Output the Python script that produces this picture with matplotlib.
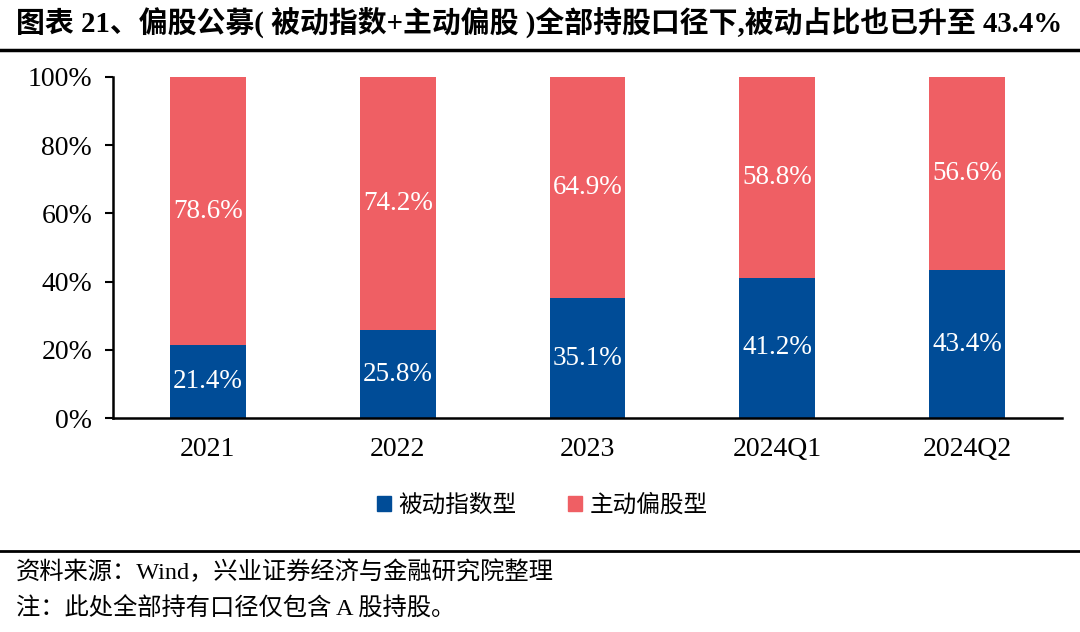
import matplotlib
matplotlib.use("Agg")
import matplotlib.pyplot as plt
from matplotlib.patches import Patch

categories = ["2021", "2022", "2023", "2024Q1", "2024Q2"]
passive = [21.4, 25.8, 35.1, 41.2, 43.4]
active = [78.6, 74.2, 64.9, 58.8, 56.6]
series_names = ["被动指数型", "主动偏股型"]
yticks = [0, 20, 40, 60, 80, 100]

BLUE = "#004C97"
RED = "#EF5F64"
FAM = ["Liberation Serif", "Noto Sans CJK SC"]

plt.rcParams["font.family"] = FAM

fig = plt.figure(figsize=(10.8, 6.32), dpi=100)
W, H = 1080, 632

ax = fig.add_axes([113 / W, 1 - 418 / H, (1062 - 113) / W, (418 - 77) / H])
x = list(range(len(categories)))
bw = 0.40
ax.bar(x, passive, width=bw, color=BLUE)
ax.bar(x, active, width=bw, bottom=passive, color=RED)

for i in x:
    ax.text(i, passive[i] / 2, f"{passive[i]:.1f}%", ha="center", va="center",
            color="white", fontsize=19.5, family=FAM)
    ax.text(i, passive[i] + active[i] / 2, f"{active[i]:.1f}%", ha="center", va="center",
            color="white", fontsize=19.5, family=FAM)

ax.set_xlim(-0.5, 4.5)
ax.set_ylim(0, 100)
ax.set_yticks(yticks)
ax.set_yticklabels([f"{v}%" for v in yticks], fontsize=20)
ax.set_xticks(x)
ax.set_xticklabels(categories, fontsize=20)
ax.tick_params(axis="x", length=0, pad=14)
ax.tick_params(axis="y", length=6, width=1.5, pad=9, direction="out")
for s in ["top", "right"]:
    ax.spines[s].set_visible(False)
ax.spines["left"].set_linewidth(1.8)
ax.spines["bottom"].set_linewidth(1.8)

handles = [Patch(color=BLUE), Patch(color=RED)]
fig.legend(handles, series_names, loc="center", bbox_to_anchor=(542 / W, 1 - 506 / H),
           ncol=2, frameon=False, handlelength=0.6, handleheight=0.6,
           handletextpad=0.3, columnspacing=2.2, prop={"family": FAM, "size": 17})

# title
fig.text(16 / W, 1 - 22 / H,
         "图表 21、偏股公募( 被动指数+主动偏股 )全部持股口径下,被动占比也已升至 43.4%",
         ha="left", va="center", fontsize=20.8, fontweight="bold", family=FAM)
fig.add_artist(plt.Line2D([0, 1], [1 - 50 / H, 1 - 50 / H], color="black", lw=2.5,
                          transform=fig.transFigure))
fig.add_artist(plt.Line2D([0, 1], [1 - 551 / H, 1 - 551 / H], color="black", lw=2,
                          transform=fig.transFigure))
fig.text(16 / W, 1 - 572 / H, "资料来源：Wind，兴业证券经济与金融研究院整理",
         ha="left", va="center", fontsize=17.5, family=FAM)
fig.text(16 / W, 1 - 609 / H, "注：此处全部持有口径仅包含 A 股持股。",
         ha="left", va="center", fontsize=17.5, family=FAM)

fig.savefig("out.png", dpi=100)
